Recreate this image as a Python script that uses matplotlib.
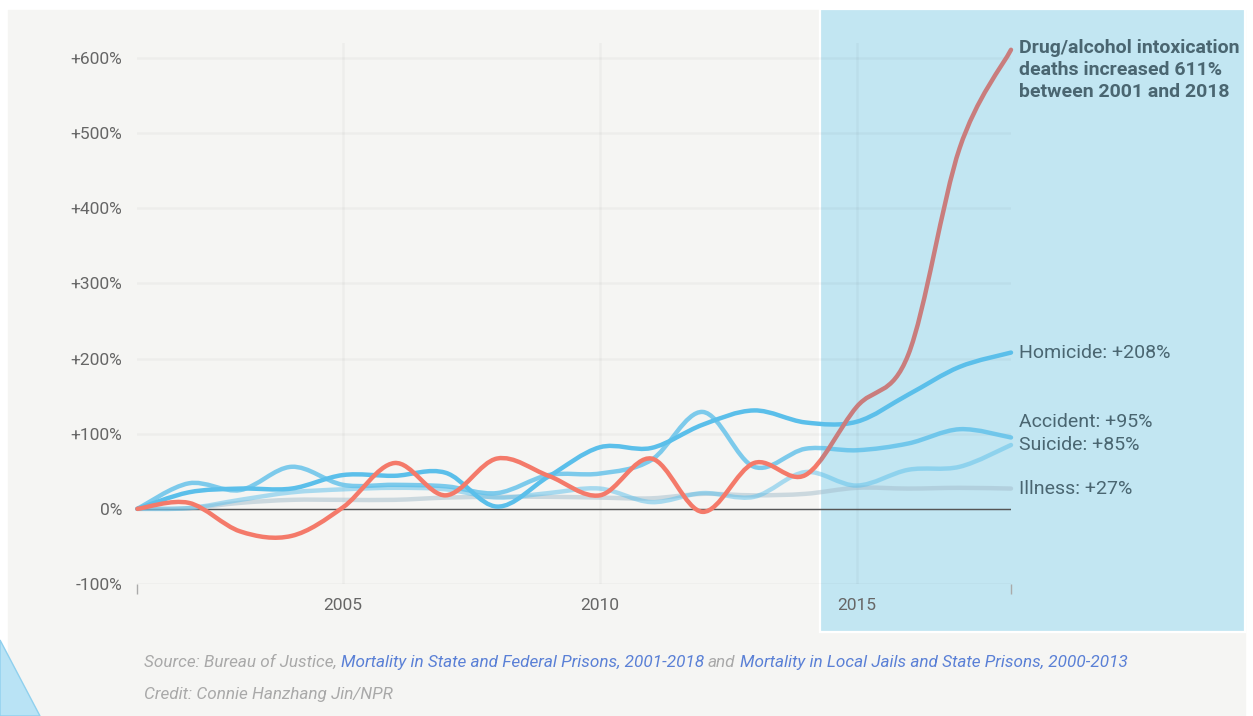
import matplotlib
matplotlib.use("Agg")
import matplotlib.pyplot as plt
from matplotlib.path import Path
from matplotlib.patches import PathPatch, Rectangle, Polygon

years = list(range(2001, 2019))
drug = [0, 8, -30, -36, 2, 61, 18, 67, 44, 18, 67, -4, 61, 45, 136, 205, 480, 611]
homicide = [0, 22, 27, 27, 45, 44, 48, 3, 43, 82, 81, 112, 131, 115, 116, 152, 189, 208]
accident = [0, 34, 25, 56, 32, 32, 30, 21, 45, 47, 65, 129, 56, 80, 78, 87, 106, 95]
suicide = [0, 1, 12, 22, 26, 28, 26, 15, 21, 27, 9, 21, 16, 49, 31, 52, 56, 85]
illness = [0, 1, 8, 12, 12, 12, 15, 16, 16, 15, 14, 20, 18, 20, 28, 27, 28, 27]

ytick_vals = [-100, 0, 100, 200, 300, 400, 500, 600]
xtick_vals = [2005, 2010, 2015]

W, H = 1253, 716
BOX = (820, 9, 1245, 632)  # pixel box of the highlight panel (left, top, right, bottom)


def smooth_path(xs, ys):
    # catmull-rom through the yearly points, as cubic bezier segments
    pts = list(zip(xs, ys))
    verts = [pts[0]]
    codes = [Path.MOVETO]
    n = len(pts)
    for i in range(n - 1):
        p0 = pts[i - 1] if i > 0 else pts[i]
        p1, p2 = pts[i], pts[i + 1]
        p3 = pts[i + 2] if i + 2 < n else pts[i + 1]
        c1 = (p1[0] + (p2[0] - p0[0]) / 6, p1[1] + (p2[1] - p0[1]) / 6)
        c2 = (p2[0] - (p3[0] - p1[0]) / 6, p2[1] - (p3[1] - p1[1]) / 6)
        verts += [c1, c2, p2]
        codes += [Path.CURVE4] * 3
    return Path(verts, codes)


def draw_line(ax, ys, color, alpha=1.0, clip=None):
    p = PathPatch(smooth_path(years, ys), fill=False, edgecolor=color, alpha=alpha,
                  lw=3.2, capstyle="round", joinstyle="round", zorder=3)
    ax.add_patch(p)
    if clip is None:
        p.set_clip_on(False)
    else:
        p.set_clip_path(clip)
    return p


def text_run(fig, x, y, pieces, gap, **kw):
    r = fig.canvas.get_renderer()
    for s, col in pieces:
        t = fig.text(x, y, s, color=col, **kw)
        bb = t.get_window_extent(renderer=r)
        x += (bb.width + gap) / W


def main():
    plt.rcParams["font.family"] = ["Roboto", "DejaVu Sans"]
    fig = plt.figure(figsize=(W / 100, H / 100), dpi=100, facecolor="white")

    # page panel + highlight box
    fig.patches.append(Rectangle((8 / W, 0), (1245 - 8) / W, (H - 10) / H,
                                 transform=fig.transFigure, color="#f5f5f3", zorder=-3))
    bx0, by0 = BOX[0] / W, 1 - BOX[3] / H
    bw, bh = (BOX[2] - BOX[0]) / W, (BOX[3] - BOX[1]) / H
    fig.patches.append(Rectangle((bx0, by0), bw, bh, transform=fig.transFigure,
                                 facecolor="#c2e6f2", edgecolor="white", lw=1.6, zorder=-2))
    fig.patches.append(Polygon([(0, 1 - 640 / H), (40 / W, 0), (0, 0)], closed=True,
                               transform=fig.transFigure, facecolor="#b9e3f5",
                               edgecolor="#8fd0ee", lw=1, zorder=-1))

    ax = fig.add_axes([137.4 / W, 1 - 584 / H, (1011 - 137.4) / W, (584 - 43) / H])
    ax.set_facecolor("none")
    ax.set_xlim(2001, 2018)
    ax.set_ylim(-100, 620)
    for s in ax.spines.values():
        s.set_visible(False)

    ax.set_yticks(ytick_vals)
    ax.set_yticklabels([("+%d%%" % v) if v > 0 else ("%d%%" % v) for v in ytick_vals])
    ax.set_xticks(xtick_vals)
    ax.set_xticks([2001, 2018], minor=True)
    ax.tick_params(axis="y", length=0, pad=11, labelsize=12.5, labelcolor="#666666")
    ax.tick_params(axis="x", which="major", length=0, pad=10, labelsize=12.5, labelcolor="#666666")
    ax.tick_params(axis="x", which="minor", length=7, width=1, color="#aaaaaa")
    ax.grid(True, color="black", alpha=0.03, lw=1.8)
    ax.set_axisbelow(True)
    ax.axhline(0, color="#555555", lw=1, zorder=2)

    # lines
    draw_line(ax, illness, "#a3bccb", alpha=0.5)
    draw_line(ax, suicide, "#5bbfea", alpha=0.5)
    draw_line(ax, accident, "#5bbfea", alpha=0.78)
    draw_line(ax, homicide, "#5bbfea")
    left = Rectangle((0, 0), bx0, 1, transform=fig.transFigure)
    right = Rectangle((bx0, 0), 1 - bx0, 1, transform=fig.transFigure)
    draw_line(ax, drug, "#f47a6a", clip=left).set_zorder(4)
    draw_line(ax, drug, "#c97d7d", clip=right).set_zorder(4)

    lab = dict(textcoords="offset points", ha="left", va="center", fontsize=14,
               color="#4a6671", annotation_clip=False)
    ax.annotate("Drug/alcohol intoxication\ndeaths increased 611%\nbetween 2001 and 2018",
                xy=(2018, drug[-1]), xytext=(5.5, 8), fontweight="bold", linespacing=1.3,
                **{**lab, "va": "top"})
    ax.annotate("Homicide: +208%", xy=(2018, homicide[-1]), xytext=(5.5, 0), **lab)
    ax.annotate("Accident: +95%", xy=(2018, accident[-1]), xytext=(5.5, 11), **lab)
    ax.annotate("Suicide: +85%", xy=(2018, suicide[-1]), xytext=(5.5, 0), **lab)
    ax.annotate("Illness: +27%", xy=(2018, illness[-1]), xytext=(5.5, 0), **lab)

    gray, blue = "#a9a9a9", "#5a80d6"
    kw = dict(fontsize=12.3, style="italic", va="baseline")
    text_run(fig, 144 / W, 1 - 667 / H, [
        ("Source: Bureau of Justice,", gray),
        ("Mortality in State and Federal Prisons, 2001-2018", blue),
        ("and", gray),
        ("Mortality in Local Jails and State Prisons, 2000-2013", blue),
    ], gap=4, **kw)
    fig.text(144 / W, 1 - 699 / H, "Credit: Connie Hanzhang Jin/NPR", color=gray, **kw)

    fig.savefig("out.png", dpi=100, facecolor="white")


if __name__ == "__main__":
    main()
